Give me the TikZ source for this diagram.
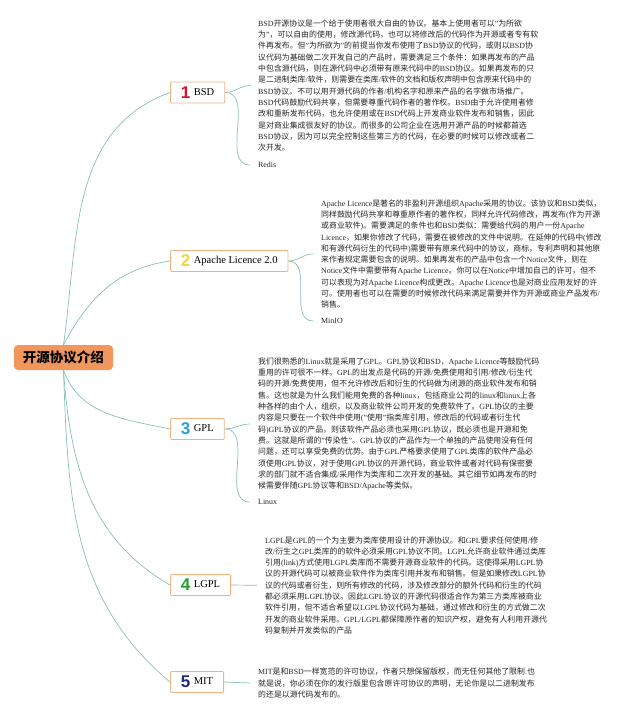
\documentclass[tikz,border=0pt]{standalone}
\usepackage{fontspec}
\setmainfont{Liberation Serif}
\newfontfamily\hanfont{Noto Sans CJK SC}
\newfontfamily\digitfont{Liberation Sans}
\usetikzlibrary{positioning}

\definecolor{rootorange}{RGB}{241, 150, 92}
\definecolor{topicedge}{RGB}{243, 178, 132}
\definecolor{linkteal}{RGB}{138, 190, 184}
\definecolor{numred}{RGB}{216, 20, 44}
\definecolor{numyellow}{RGB}{246, 212, 62}
\definecolor{numblue}{RGB}{44, 158, 226}
\definecolor{numgreen}{RGB}{30, 160, 40}
\definecolor{numnavy}{RGB}{30, 44, 130}

% Han characters and CJK punctuation switch to the CJK face,
% everything else stays in the serif face.
\newXeTeXintercharclass\hanclass
\newcount\hancode
\hancode="0021
\loop\XeTeXcharclass\hancode=0 \advance\hancode by 1
  \ifnum\hancode<"007F\repeat
\XeTeXcharclass"201C=0 \XeTeXcharclass"201D=0
\hancode="3000
\loop\XeTeXcharclass\hancode=\hanclass \advance\hancode by 1
  \ifnum\hancode<"3040\repeat
\hancode="4E00
\loop\XeTeXcharclass\hancode=\hanclass \advance\hancode by 1
  \ifnum\hancode<"A000\repeat
\hancode="FF00
\loop\XeTeXcharclass\hancode=\hanclass \advance\hancode by 1
  \ifnum\hancode<"FFF0\repeat
\XeTeXinterchartoks 0 \hanclass = {\hanfont}
\XeTeXinterchartoks 4095 \hanclass = {\hanfont}
\XeTeXinterchartoks \hanclass 0 = {\rmfamily}
\XeTeXinterchartoks 4095 0 = {\rmfamily}
\newcommand{\hanmix}{\XeTeXinterchartokenstate=1\relax}

% Big coloured number in front of a licence name.
\newcommand{\licence}[3]{%
  {\digitfont\bfseries\fontsize{17}{17}\selectfont\color{#1}#2}%
  \hspace{3.5pt}\raisebox{3pt}{#3}}

\tikzset{
  % Central topic (orange pill).
  root/.style={
    rectangle, rounded corners=4pt,
    fill=rootorange,
    minimum width=99pt, minimum height=25pt,
    font=\hanfont\bfseries\fontsize{13.5}{14}\selectfont,
  },
  % One licence per box.
  topic/.style={
    rectangle, rounded corners=1pt,
    draw=topicedge, line width=0.8pt,
    fill=white,
    anchor=west,
    minimum height=21pt,
    inner xsep=10.5pt, inner ysep=0pt,
    font=\fontsize{10.5}{12}\selectfont,
  },
  % Long description beside each topic.
  note/.style={
    anchor=west, align=left,
    inner xsep=8pt, inner ysep=0pt,
    text=black!85,
    font=\fontsize{7.9}{11.3}\selectfont\hanmix,
  },
  % Example project under a description.
  tag/.style={
    anchor=west, inner xsep=8pt, inner ysep=0pt,
    text=black!85,
    font=\fontsize{7.9}{10}\selectfont,
  },
  % Thin curved branch.
  link/.style={draw=linkteal, line width=0.7pt},
}

\begin{document}
\begin{tikzpicture}[x=1pt, y=1pt]
  \useasboundingbox (0, 0) rectangle (640, -716);

  % Central topic.
  \node[root] (intro) at (63.5, -357.5) {开源协议介绍};

  % Licence topics.
  \node[topic] (bsd)    at (170, -92.5) {\licence{numred}{1}{BSD}};
  \node[topic] (apache) at (170, -261)  {\licence{numyellow}{2}{Apache Licence 2.0}};
  \node[topic] (gpl)    at (170, -429)  {\licence{numblue}{3}{GPL}};
  \node[topic] (lgpl)   at (170, -585)  {\licence{numgreen}{4}{LGPL}};
  \node[topic] (mit)    at (170, -682)  {\licence{numnavy}{5}{MIT}};

  % Descriptions.
  \node[note] (bsdnote) at (250, -85.5) {%
    BSD开源协议是一个给于使用者很大自由的协议。基本上使用者可以"为所欲\\
    为"，可以自由的使用，修改源代码，也可以将修改后的代码作为开源或者专有软\\
    件再发布。但"为所欲为"的前提当你发布使用了BSD协议的代码，或则以BSD协\\
    议代码为基础做二次开发自己的产品时，需要满足三个条件：如果再发布的产品\\
    中包含源代码，则在源代码中必须带有原来代码中的BSD协议。如果再发布的只\\
    是二进制类库/软件，则需要在类库/软件的文档和版权声明中包含原来代码中的\\
    BSD协议。不可以用开源代码的作者/机构名字和原来产品的名字做市场推广。\\
    BSD代码鼓励代码共享，但需要尊重代码作者的著作权。BSD由于允许使用者修\\
    改和重新发布代码，也允许使用或在BSD代码上开发商业软件发布和销售，因此\\
    是对商业集成很友好的协议。而很多的公司企业在选用开源产品的时候都首选\\
    BSD协议，因为可以完全控制这些第三方的代码，在必要的时候可以修改或者二\\
    次开发。};
  \node[note] (apachenote) at (313, -254) {%
    Apache Licence是著名的非盈利开源组织Apache采用的协议。该协议和BSD类似，\\
    同样鼓励代码共享和尊重原作者的著作权，同样允许代码修改，再发布(作为开源\\
    或商业软件)。需要满足的条件也和BSD类似：需要给代码的用户一份Apache\\
    Licence，如果你修改了代码，需要在被修改的文件中说明。在延伸的代码中(修改\\
    和有源代码衍生的代码中)需要带有原来代码中的协议，商标，专利声明和其他原\\
    来作者规定需要包含的说明。如果再发布的产品中包含一个Notice文件，则在\\
    Notice文件中需要带有Apache Licence。你可以在Notice中增加自己的许可，但不\\
    可以表现为对Apache Licence构成更改。Apache Licence也是对商业应用友好的许\\
    可。使用者也可以在需要的时候修改代码来满足需要并作为开源或商业产品发布/\\
    销售。};
  \node[note] (gplnote) at (250, -424) {%
    我们很熟悉的Linux就是采用了GPL。GPL协议和BSD，Apache Licence等鼓励代码\\
    重用的许可很不一样。GPL的出发点是代码的开源/免费使用和引用/修改/衍生代\\
    码的开源/免费使用，但不允许修改后和衍生的代码做为闭源的商业软件发布和销\\
    售。这也就是为什么我们能用免费的各种linux，包括商业公司的linux和linux上各\\
    种各样的由个人，组织，以及商业软件公司开发的免费软件了。GPL协议的主要\\
    内容是只要在一个软件中使用("使用"指类库引用，修改后的代码或者衍生代\\
    码)GPL协议的产品，则该软件产品必须也采用GPL协议，既必须也是开源和免\\
    费。这就是所谓的"传染性"。GPL协议的产品作为一个单独的产品使用没有任何\\
    问题，还可以享受免费的优势。由于GPL严格要求使用了GPL类库的软件产品必\\
    须使用GPL协议，对于使用GPL协议的开源代码，商业软件或者对代码有保密要\\
    求的部门就不适合集成/采用作为类库和二次开发的基础。其它细节如再发布的时\\
    候需要伴随GPL协议等和BSD/Apache等类似。};
  \node[note] (lgplnote) at (257, -585.3) {%
    LGPL是GPL的一个为主要为类库使用设计的开源协议。和GPL要求任何使用/修\\
    改/衍生之GPL类库的的软件必须采用GPL协议不同。LGPL允许商业软件通过类库\\
    引用(link)方式使用LGPL类库而不需要开源商业软件的代码。这使得采用LGPL协\\
    议的开源代码可以被商业软件作为类库引用并发布和销售。但是如果修改LGPL协\\
    议的代码或者衍生，则所有修改的代码，涉及修改部分的额外代码和衍生的代码\\
    都必须采用LGPL协议。因此LGPL协议的开源代码很适合作为第三方类库被商业\\
    软件引用，但不适合希望以LGPL协议代码为基础，通过修改和衍生的方式做二次\\
    开发的商业软件采用。GPL/LGPL都保障原作者的知识产权，避免有人利用开源代\\
    码复制并开发类似的产品};
  \node[note] (mitnote) at (250, -683) {%
    MIT是和BSD一样宽范的许可协议，作者只想保留版权，而无任何其他了限制.也\\
    就是说，你必须在你的发行版里包含原许可协议的声明，无论你是以二进制发布\\
    的还是以源代码发布的。};

  % Example projects.
  \node[tag] (redis) at (250, -165) {Redis};
  \node[tag] (minio) at (313, -321) {MinIO};
  \node[tag] (linux) at (250, -502) {Linux};

  % Branches from the central topic.
  \draw[link] (intro.north) to[out=82, in=200] (bsd.west);
  \draw[link] (intro.north) to[out=62, in=188] (apache.west);
  \draw[link] (intro.south) to[out=-70, in=168] (gpl.west);
  \draw[link] (intro.south) to[out=-86, in=150] (lgpl.west);
  \draw[link] (intro.south) to[out=-88, in=140] (mit.west);

  % Branches to descriptions and projects.
  \draw[link] (bsd.east) to[out=0, in=180] (bsdnote.west);
  \draw[link] (bsd.east) to[out=0, in=180] (redis.west);
  \draw[link] (apache.east) to[out=0, in=180] (apachenote.west);
  \draw[link] (apache.east) to[out=0, in=180] (minio.west);
  \draw[link] (gpl.east) to[out=0, in=180] (gplnote.west);
  \draw[link] (gpl.east) to[out=0, in=180] (linux.west);
  \draw[link] (lgpl.east) -- (lgplnote.west);
  \draw[link] (mit.east) -- (mitnote.west);

\end{tikzpicture}
\end{document}
